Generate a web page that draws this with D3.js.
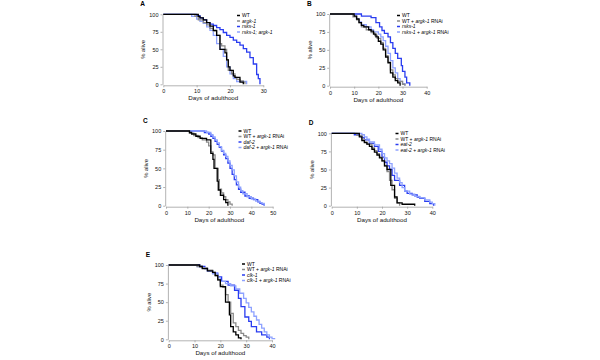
<!DOCTYPE html>
<html><head><meta charset="utf-8">
<script src="https://cdn.jsdelivr.net/npm/d3@7"></script>
<style>body{margin:0;background:#fff}svg{display:block}</style>
</head><body><svg id="c" width="600" height="360"></svg>
<script>
// ---- data: survival curves [day, % alive] ----
const A_WT = [[0,100],[10.5,97],[11,95],[12,92],[13,88],[14,83],[15,77],[16,70],[17,50],[18.5,45],[19,35],[19.5,25],[20,20],[21,12],[21.5,10],[23,3],[24,0]];
const A_argk1 = [[0,100],[9.5,97],[10.5,92],[12,88],[13,85],[14,80],[15,76],[16,70],[17,58],[17.5,55],[18.5,50],[19,35],[19.5,20],[20.5,15],[21.5,10],[22,7],[23,5],[24,3],[24.5,0]];
const A_rsks1 = [[0,100],[10,98],[11,95],[12,92],[13,88],[14,86],[15,84],[16,81],[17,78],[18,74],[19,70],[20,67],[21,63],[22,60],[23,56],[24,51],[25,46],[26,38],[27,29],[28,14],[28.5,8],[29,0]];
const A_rsks1argk1 = [[0,100],[8.5,97],[10,93],[11,90],[12,87],[13,82],[14,77],[15,70],[16,58],[17,50],[18,40],[19,25],[20,15],[21,8],[22,4],[25,0]];

const B_WT = [[0,100],[10,97],[11,93],[12,88],[13,84],[14,82],[16,78],[17,76],[18,72],[19,68],[20,62],[21,58],[22,50],[23,40],[24,32],[25,18],[26,12],[27,7],[28,4],[29,0]];
const B_WTargk1 = [[0,100],[9.5,96],[11,92],[12,88],[13,82],[15,78],[17,74],[18.5,70],[19.5,66],[21,60],[22,52],[23,42],[24,33],[25,22],[26,15],[27,10],[28,6],[30,2],[31,0]];
const B_rsks1 = [[0,100],[13,97],[17,95],[19,88],[20.5,82],[21.5,77],[22.5,73],[24,68],[25,60],[26,52],[27,45],[28,38],[29.5,28],[30,20],[31,12],[31.7,4],[33,0]];
const B_rsks1argk1 = [[0,100],[10,97],[11,93],[12,89],[13,85],[15,82],[17,78],[18,75],[20,72],[21,68],[22,63],[23,55],[24,45],[25,35],[26,25],[27,18],[28,10],[29,6],[30,3],[31,0]];

const C_WT = [[0,100],[11,98],[12,96],[14,93],[16,90],[19,88],[21,70],[22,62],[22.5,50],[24,33],[24.5,21],[25.5,14],[27,8],[28,4],[29,0]];
const C_WTargk1 = [[0,100],[11,97],[13,94],[15,91],[17,88],[19,85],[20,80],[21,72],[22,68],[23,50],[24.5,35],[25,22],[26,17],[27,12],[28,8],[29,5],[30,2],[31,0]];
const C_daf2 = [[0,100],[18,98],[20,96],[21,93],[22,90],[23,86],[24,82],[25,78],[26,73],[27,68],[28,63],[29,57],[30,50],[31,42],[32,35],[33,28],[34,22],[35,18],[37,13],[39,10],[41,8],[43,5],[44,3],[45,2],[46,0]];
const C_daf2argk1 = [[0,100],[19,98],[21,95],[22,92],[23,88],[24,84],[25,79],[26,74],[27,70],[28,66],[29,60],[30,54],[31,48],[32,40],[33,32],[34,25],[35,20],[36,16],[38,12],[40,9],[42,6],[44,4],[45,3],[46,0]];

const D_WT = [[0,100],[11,95],[12,90],[13,87],[14,85],[15,82],[16,78],[17,74],[18,70],[19,66],[20,62],[21,55],[22,50],[23.5,28],[25,12],[26,4],[28,2],[33,0]];
const D_WTargk1 = [[0,100],[10,97],[12,92],[13,88],[14,85],[16,80],[17,76],[18,72],[19,67],[20,62],[21,55],[22,47],[23,35],[24,22],[25,10],[26,4],[27,0]];
const D_eat2 = [[0,100],[9,98],[11,96],[12,94],[13,91],[15,86],[17,82],[18.5,75],[20,67],[21,60],[22,55],[23,50],[24,42],[25,35],[27,28],[29,20],[30,17],[32,15],[34,12],[35,10],[37,6],[39,3],[40.5,0]];
const D_eat2argk1 = [[0,100],[12,98],[13,95],[14,92],[15,88],[17,84],[19,78],[20,72],[21,66],[22,62],[23,58],[24,52],[25,45],[26,38],[27,32],[28,25],[29,20],[31,16],[33,13],[35,11],[37,8],[39,5],[40,3],[41,0]];

const E_WT = [[0,100],[12,98],[13,95],[15,92],[17,90],[18,86],[19,80],[20,71],[22,50],[23.5,33],[24,17],[25,10],[26,6],[27,2],[28,0]];
const E_WTargk1 = [[0,100],[11,98],[13,96],[15,93],[17,90],[18,85],[19,80],[20,73],[21,70],[22,60],[23,50],[24,35],[25,22],[26,17],[27,12],[28,8],[29,5],[30,3],[31,0]];
const E_clk1 = [[0,100],[12,98],[14,95],[15,92],[17,89],[19,84],[20.5,78],[23,73],[25.5,66],[27,55],[28,44],[29.5,30],[31,24],[32,17],[34,10],[36,6],[38,3],[39,0]];
const E_clk1argk1 = [[0,100],[11,98],[13,96],[15,92],[17,88],[19,83],[20,78],[22,75],[24,72],[26,68],[27.5,62],[29,55],[30,49],[31,43],[32,37],[33,31],[34,26],[35,20],[36,15],[37,10],[38,6],[39,3],[40,1],[41,0]];

// ---- labels ----
const panelLetters = ["A","B","C","D","E"];
const legendA = ["WT","argk-1","rsks-1","rsks-1; argk-1"];
const legendB = ["WT","WT + argk-1 RNAi","rsks-1","rsks-1 + argk-1 RNAi"];
const legendC = ["WT","WT + argk-1 RNAi","daf-2","daf-2 + argk-1 RNAi"];
const legendD = ["WT","WT + argk-1 RNAi","eat-2","eat-2 + argk-1 RNAi"];
const legendE = ["WT","WT + argk-1 RNAi","clk-1","clk-1 + argk-1 RNAi"];
const yTicks = [0,25,50,75,100];
const xTicksA = [0,10,20,30];
const xTicks40 = [0,10,20,30,40];
const xTicksC = [0,10,20,30,40,50];
const xTitle = "Days of adulthood";
const yTitle = "% alive";

// ---- layout / style ----
const colors = ["#000000","#8a8a8a","#2a3df0","#8ea2ff"];
const panels = [
  {L:panelLetters[0], x0:163.3, x1:263.3, xmax:30, ticks:xTicksA, yTop:14.3, yBot:84.3, series:[A_WT,A_argk1,A_rsks1,A_rsks1argk1], legend:legendA, lx:237, ly:15.5},
  {L:panelLetters[1], x0:330, x1:426.7, xmax:40, ticks:xTicks40, yTop:14, yBot:85.7, series:[B_WT,B_WTargk1,B_rsks1,B_rsks1argk1], legend:legendB, lx:397, ly:15.5},
  {L:panelLetters[2], x0:166, x1:272.7, xmax:50, ticks:xTicksC, yTop:131, yBot:205.7, series:[C_WT,C_WTargk1,C_daf2,C_daf2argk1], legend:legendC, lx:238.5, ly:131},
  {L:panelLetters[3], x0:331.7, x1:432.3, xmax:40, ticks:xTicks40, yTop:133.3, yBot:205.7, series:[D_WT,D_WTargk1,D_eat2,D_eat2argk1], legend:legendD, lx:395.5, ly:133.5},
  {L:panelLetters[4], x0:168.7, x1:272, xmax:40, ticks:xTicks40, yTop:265, yBot:339.3, series:[E_WT,E_WTargk1,E_clk1,E_clk1argk1], legend:legendE, lx:242, ly:264}
];

const svg = d3.select("#c");
svg.append("rect").attr("width",600).attr("height",360).attr("fill","#fff");
const FONT = "Liberation Sans, Arial, sans-serif";
const drawOrder = [2,3,1,0];

panels.forEach(p => {
  const x = d3.scaleLinear().domain([0,p.xmax]).range([p.x0,p.x1]);
  const y = d3.scaleLinear().domain([0,100]).range([p.yBot,p.yTop]);
  const g = svg.append("g").attr("font-family",FONT);

  g.append("text").attr("x",p.x0-23).attr("y",p.yTop-8).attr("font-size",6.5).attr("font-weight","bold").text(p.L);

  const ya = g.append("g").attr("transform",`translate(${p.x0-0.8},0)`)
    .call(d3.axisLeft(y).tickValues(yTicks).tickSize(2).tickSizeOuter(0).tickPadding(2));
  const xa = g.append("g").attr("transform",`translate(0,${p.yBot+1})`)
    .call(d3.axisBottom(x).tickValues(p.ticks).tickSize(2).tickSizeOuter(0).tickPadding(2));
  [ya,xa].forEach(a=>{
    a.selectAll("path,line").attr("stroke","#a0a0a0").attr("stroke-width",0.8);
    a.selectAll("text").attr("font-size",5.5).attr("fill","#111").attr("font-family",FONT);
  });

  g.append("text").attr("x",(p.x0+p.x1)/2).attr("y",p.yBot+16).attr("text-anchor","middle")
    .attr("font-size",6.2).attr("fill","#111").text(xTitle);
  g.append("text").attr("transform",`translate(${p.x0-18},${(p.yTop+p.yBot)/2}) rotate(-90)`)
    .attr("text-anchor","middle").attr("font-size",5.8).attr("fill","#111").text(yTitle);

  const line = d3.line().x(d=>x(d[0])).y(d=>y(d[1])).curve(d3.curveStepAfter);
  drawOrder.forEach(i=>{
    g.append("path").datum(p.series[i]).attr("d",line).attr("fill","none")
      .attr("stroke",colors[i]).attr("stroke-width",1.3);
  });

  p.legend.forEach((lab,i)=>{
    const yy = p.ly + i*5.5;
    g.append("line").attr("x1",p.lx).attr("x2",p.lx+3).attr("y1",yy).attr("y2",yy)
      .attr("stroke",colors[i]).attr("stroke-width",1.5);
    const t = g.append("text").attr("x",p.lx+5).attr("y",yy+1.8).attr("font-size",5).attr("fill","#000");
    lab.split(" ").forEach((w,k)=>{
      t.append("tspan").attr("font-style", /-\d/.test(w) ? "italic" : "normal").text((k?" ":"")+w);
    });
  });
});
</script></body></html>
